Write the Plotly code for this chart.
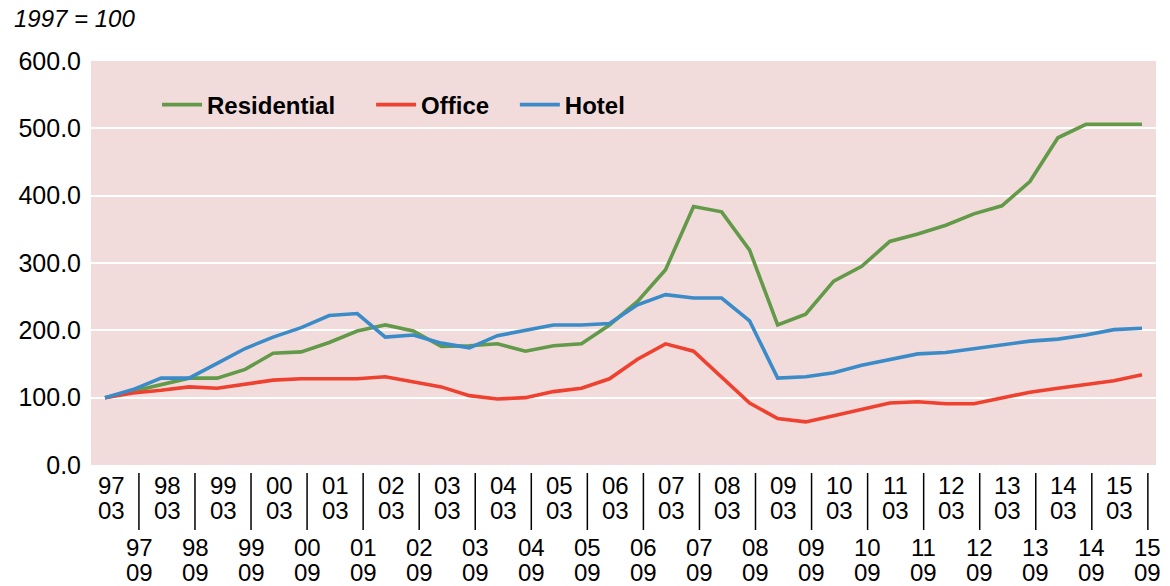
import plotly.graph_objects as go

years = ["97", "98", "99", "00", "01", "02", "03", "04", "05", "06",
         "07", "08", "09", "10", "11", "12", "13", "14", "15"]
months = ["03", "09"]

residential = [100, 110, 119, 129, 129, 142, 166, 168, 182, 199,
               208, 199, 176, 177, 180, 169, 177, 180, 208, 243,
               290, 384, 376, 319, 208, 224, 273, 295, 332, 343,
               356, 373, 385, 421, 486, 506, 506, 506]
office = [100, 107, 111, 116, 114, 120, 126, 128, 128, 128,
          131, 123, 116, 103, 98, 100, 109, 114, 128, 157,
          180, 169, 130, 92, 69, 64, 73, 83, 92, 94,
          91, 91, 100, 108, 114, 120, 125, 134]
hotel = [100, 112, 129, 129, 151, 173, 190, 204, 222, 225,
         190, 193, 181, 174, 192, 200, 208, 208, 210, 238,
         253, 248, 248, 214, 129, 131, 137, 148, 156, 165,
         167, 173, 178, 184, 187, 193, 201, 203]

periods = [(y, m) for y in years for m in months]
xs = list(range(len(periods)))

FONT = "Liberation Sans, Arial, sans-serif"
series = [
    ("Residential", residential, "#629A4A", "legend"),
    ("Office", office, "#EE4130", "legend2"),
    ("Hotel", hotel, "#3B8BC8", "legend3"),
]

fig = go.Figure()
for name, vals, col, lg in series:
    fig.add_trace(go.Scatter(x=xs, y=vals, name=name, mode="lines",
                             line=dict(color=col, width=3.6), legend=lg))

# staggered two-line category labels + separators
H = 404.0  # plot height in px
def py(px_below):
    return -px_below / H

for i, (y, m) in enumerate(periods):
    if m == "03":
        rows = [(y, 20), (m, 45)]
    else:
        rows = [(y, 82), (m, 107)]
    for txt, off in rows:
        fig.add_annotation(x=i, y=py(off), xref="x", yref="paper", text=txt,
                           showarrow=False, xshift=6, yanchor="middle",
                           font=dict(family=FONT, size=24, color="#000"))
    if m == "09":
        fig.add_shape(type="line", xref="x", yref="paper",
                      x0=i + 0.21, x1=i + 0.21, y0=py(8), y1=py(65),
                      line=dict(color="#000", width=1.5))

fig.add_annotation(x=-0.0745, y=1.104, xref="paper", yref="paper",
                   text="<i>1997 = 100</i>", showarrow=False,
                   xanchor="left", yanchor="middle",
                   font=dict(family=FONT, size=24, color="#000"))

leg = dict(orientation="h", bgcolor="rgba(0,0,0,0)", yanchor="middle",
           y=0.891, xanchor="left", itemwidth=40,
           font=dict(family=FONT, size=24, color="#000", weight="bold"))

fig.update_layout(
    width=1170, height=586,
    margin=dict(l=91, r=14, t=61, b=121),
    paper_bgcolor="white",
    plot_bgcolor="#F2DCDB",
    font=dict(family=FONT, size=24, color="#000"),
    showlegend=True,
    legend=dict(leg, x=0.062),
    legend2=dict(leg, x=0.263),
    legend3=dict(leg, x=0.398),
    xaxis=dict(range=[-0.5, 37.5], showticklabels=False, showgrid=False,
               zeroline=False, showline=False, ticks=""),
    yaxis=dict(range=[0, 600], dtick=100, tickformat=".1f",
               showgrid=True, gridcolor="white", gridwidth=1.5,
               zeroline=False, showline=False, ticklabelstandoff=9,
               tickfont=dict(family=FONT, size=25, color="#000")),
)

# page body has a default margin; drop it so the figure fills the window
fig.write_html("out.html", config={"displayModeBar": False},
               post_script="document.body.style.margin='0';")
